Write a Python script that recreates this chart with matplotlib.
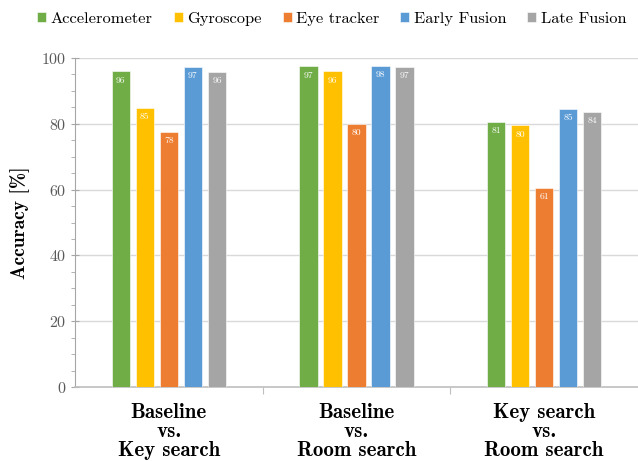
import matplotlib
matplotlib.use("Agg")
import matplotlib.pyplot as plt
import numpy as np
from matplotlib.ticker import MultipleLocator

categories = ["Baseline\nvs.\nKey search", "Baseline\nvs.\nRoom search", "Key search\nvs.\nRoom search"]
series_names = ["Accelerometer", "Gyroscope", "Eye tracker", "Early Fusion", "Late Fusion"]
accelerometer = [96.0, 97.5, 80.5]
gyroscope = [84.9, 96.0, 79.5]
eye_tracker = [77.6, 79.9, 60.6]
early_fusion = [97.3, 97.7, 84.6]
late_fusion = [95.8, 97.4, 83.7]
bar_labels = [[96, 97, 81], [85, 96, 80], [78, 80, 61], [97, 98, 85], [96, 97, 84]]
yticks = [0, 20, 40, 60, 80, 100]

colors = ["#70AD47", "#FFC000", "#ED7D31", "#5B9BD5", "#A5A5A5"]
series = [accelerometer, gyroscope, eye_tracker, early_fusion, late_fusion]

plt.rcParams['font.family'] = ['cmr10', 'DejaVu Serif']
plt.rcParams['axes.formatter.use_mathtext'] = True

fig = plt.figure(figsize=(6.38, 4.61), dpi=100)
ax = fig.add_axes([75/638, 1 - 387/461, (638 - 75)/638, (387 - 58)/461])

x = np.arange(len(categories))
pitch = 0.128
width = 0.098
handles = []
for i, (vals, col, name) in enumerate(zip(series, colors, series_names)):
    pos = x + (i - 2) * pitch
    b = ax.bar(pos, vals, width, color=col, label=name, edgecolor='white', linewidth=0.4, zorder=3)
    handles.append(b)
    for p, v, lab in zip(pos, vals, bar_labels[i]):
        ax.text(p, v - 1.5, str(lab), ha='center', va='top', color='white', fontsize=7, zorder=4)

ax.set_xlim(-0.5, 2.5)
ax.set_ylim(0, 100)
ax.set_yticks(yticks)
ax.yaxis.set_minor_locator(MultipleLocator(5))
ax.grid(axis='y', color='#D9D9D9', linewidth=1, zorder=0)

for s in ['top', 'right']:
    ax.spines[s].set_visible(False)
ax.spines['left'].set_color('#A6A6A6')
ax.spines['bottom'].set_color('#BFBFBF')
ax.spines['bottom'].set_linewidth(1.2)

ax.tick_params(axis='y', which='major', direction='inout', length=6, color='#A6A6A6', labelcolor='#595959', labelsize=11.5, pad=3)
ax.tick_params(axis='y', which='minor', direction='out', length=3, color='#A6A6A6')

ax.set_xticks([0.5, 1.5], minor=False)
ax.set_xticklabels([])
ax.tick_params(axis='x', which='major', direction='out', length=5, color='#BFBFBF')
for xi, lab in zip(x, categories):
    ax.text(xi, -5.0, lab, ha='center', va='top', fontsize=15, family=['cmb10', 'DejaVu Serif'],
            linespacing=1.0, transform=ax.transData)

ax.set_ylabel("Accuracy [%]", fontsize=14, family=['cmb10', 'DejaVu Serif'], labelpad=8)

leg = fig.legend(handles=handles, labels=series_names, loc='center', bbox_to_anchor=(0.52, 1 - 19/461),
                 ncol=5, frameon=False, fontsize=11.8, handlelength=0.55, handleheight=0.55,
                 handletextpad=0.25, columnspacing=1.3)

fig.savefig("out.png", dpi=100)
